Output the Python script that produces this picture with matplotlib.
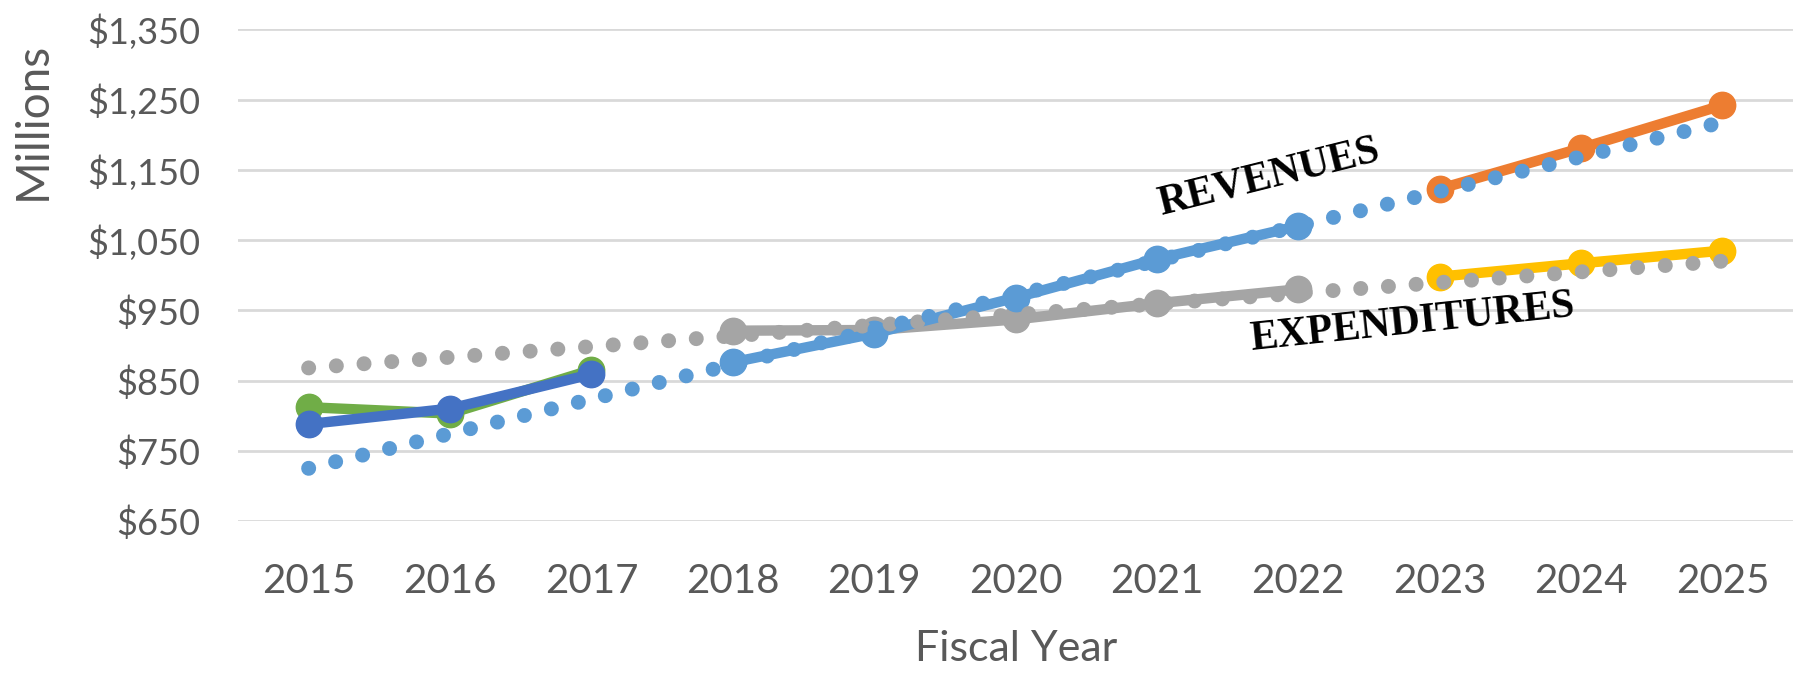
import matplotlib
matplotlib.use("Agg")
import matplotlib.pyplot as plt
from matplotlib.ticker import FuncFormatter

# values (millions of $)
years_a = [2015, 2016, 2017]
rev_a = [788, 810, 859]          # dark blue
exp_a = [812, 803, 865]          # green

years_b = [2018, 2019, 2020, 2021, 2022]
rev_b = [876, 917, 968, 1023, 1070]   # light blue
exp_b = [921, 922, 937, 960, 980]     # gray

years_c = [2023, 2024, 2025]
rev_c = [1123, 1181, 1242]       # orange
exp_c = [998, 1017, 1035]        # yellow

# linear trendlines (end points)
trend_years = [2015, 2025]
rev_trend = [725, 1218]
exp_trend = [868, 1020]

year_ticks = list(range(2015, 2026))
y_ticks = list(range(650, 1351, 100))

plt.rcParams["font.family"] = ["Lato", "DejaVu Sans"]

fig = plt.figure(figsize=(18.11, 6.73), dpi=100)
ax = fig.add_axes([0.1314, 0.2259, 0.8587, 0.7303])

lw = 7.5
ms = 19
ax.plot(years_a, exp_a, color="#70AD47", lw=lw, marker="o", ms=ms, zorder=3)
ax.plot(years_a, rev_a, color="#4472C4", lw=lw, marker="o", ms=ms, zorder=4)
ax.plot(years_b, exp_b, color="#A5A5A5", lw=lw, marker="o", ms=ms, zorder=3)
ax.plot(years_b, rev_b, color="#5B9BD5", lw=lw, marker="o", ms=ms, zorder=4)
ax.plot(years_c, rev_c, color="#ED7D31", lw=lw, marker="o", ms=ms, zorder=3)
ax.plot(years_c, exp_c, color="#FFC000", lw=lw, marker="o", ms=ms, zorder=3)

dots = (0, (0.001, 1.85))
ax.plot(trend_years, exp_trend, color="#A5A5A5", lw=10.8, linestyle=dots,
        dash_capstyle="round", zorder=5)
ax.plot(trend_years, rev_trend, color="#5B9BD5", lw=10.8, linestyle=dots,
        dash_capstyle="round", zorder=5)

ax.set_xlim(2014.5, 2025.5)
ax.set_ylim(650, 1350)
ax.set_xticks(year_ticks)
ax.set_yticks(y_ticks)
ax.yaxis.set_major_formatter(FuncFormatter(lambda v, p: f"${v:,.0f}"))
ax.grid(True, axis="y", color="#D9D9D9", lw=2)
ax.set_axisbelow(True)
for s in ax.spines.values():
    s.set_visible(False)
ax.tick_params(axis="y", length=0, pad=27, labelsize=26, labelcolor="#595959")
ax.tick_params(axis="x", length=0, pad=30, labelsize=29, labelcolor="#595959")

fig.text(0.0182, 0.82, "Millions", rotation=90, ha="center", va="center",
         fontsize=33, color="#595959")
fig.text(0.561, 0.036, "Fiscal Year", ha="center", va="center",
         fontsize=31, color="#595959")

ax.text(2021.79, 1140, "REVENUES", rotation=14, rotation_mode="anchor",
        ha="center", va="center", fontsize=30, fontweight="bold",
        family="Liberation Serif", color="black")
ax.text(2022.81, 932, "EXPENDITURES", rotation=6, rotation_mode="anchor",
        ha="center", va="center", fontsize=30, fontweight="bold",
        family="Liberation Serif", color="black")

fig.savefig("out.png", dpi=100)
